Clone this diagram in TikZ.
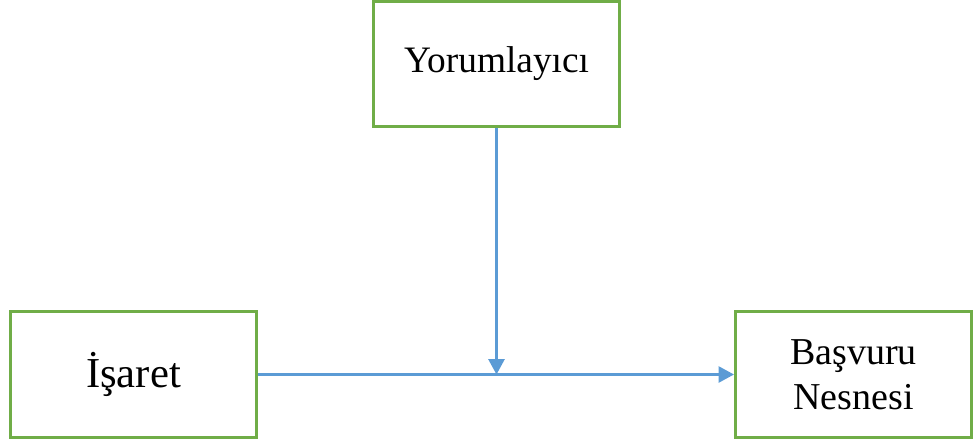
\documentclass[tikz,border=0pt]{standalone}
\usepackage{fontspec}
\setmainfont{Liberation Serif}
\usepackage{xcolor}
\usetikzlibrary{arrows.meta}
\definecolor{kutuyesil}{RGB}{112,173,71}
\definecolor{okmavi}{RGB}{91,155,213}

\tikzset{
  kutu/.style={draw=kutuyesil, line width=2.3pt, fill=white, align=center, inner sep=0pt},
  ok/.style={draw=okmavi, line width=1.8pt, -{Triangle[length=11.5pt,width=12pt]}}
}

\begin{document}
\begin{tikzpicture}[x=0.75pt,y=-0.75pt]
\useasboundingbox (0,0) rectangle (974,443);
\node[kutu, minimum width=185pt, minimum height=94pt, font=\fontsize{28}{33}\selectfont] (yorum) at (496.5,64) {Yorumlayıcı};
\node[kutu, minimum width=185pt, minimum height=94pt, font=\fontsize{32}{38}\selectfont] (isaret) at (133.5,374.5) {İşaret};
\node[kutu, minimum width=177pt, minimum height=94pt, font=\fontsize{28.5}{34}\selectfont] (basvuru) at (853.5,374.5) {Başvuru\\Nesnesi};

\coordinate (kesisim) at (yorum.south |- isaret.east);
\draw[ok] (isaret.east) -- (basvuru.west);
\draw[ok] (yorum.south) -- (kesisim);
\end{tikzpicture}
\end{document}
